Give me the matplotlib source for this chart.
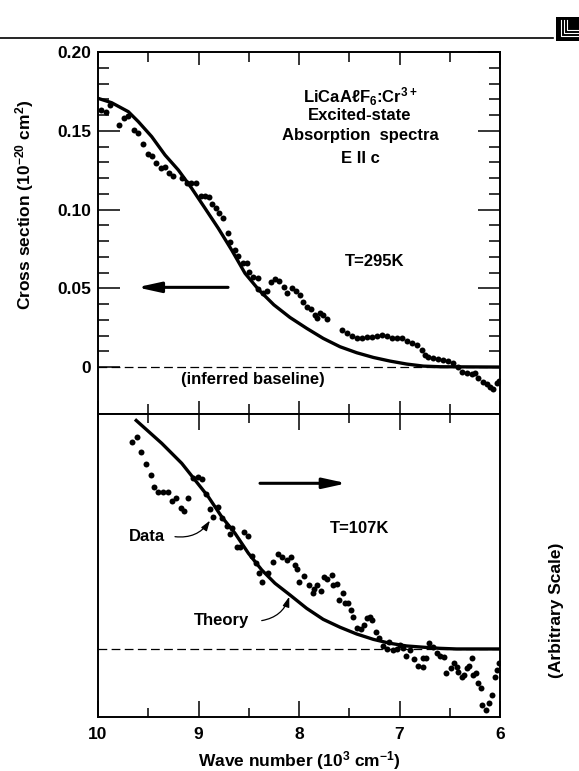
import matplotlib

matplotlib.use("Agg")
import matplotlib.pyplot as plt
from matplotlib.lines import Line2D
from matplotlib.patches import Rectangle
from matplotlib.ticker import FixedLocator

plt.rcParams["font.family"] = ["Liberation Sans", "DejaVu Sans"]
plt.rcParams["font.weight"] = "bold"
plt.rcParams["mathtext.fontset"] = "custom"
plt.rcParams["mathtext.rm"] = "Liberation Sans:bold"
plt.rcParams["mathtext.it"] = "Liberation Sans:bold"
plt.rcParams["mathtext.bf"] = "Liberation Sans:bold"

# ---- T = 295 K, cross section (1e-20 cm^2) vs wave number (1e3 cm^-1)
hot_data_wn = [9.970, 9.924, 9.881, 9.791, 9.738, 9.698, 9.638, 9.605, 9.555, 9.505,
               9.459, 9.423, 9.376, 9.333, 9.294, 9.251, 9.161, 9.118, 9.075, 9.028,
               8.975, 8.935, 8.896, 8.863, 8.829, 8.793, 8.753, 8.710, 8.687, 8.637,
               8.604, 8.554, 8.521, 8.498, 8.454, 8.411, 8.405, 8.361, 8.321, 8.282,
               8.239, 8.196, 8.149, 8.116, 8.073, 8.030, 7.990, 7.963, 7.924, 7.884,
               7.841, 7.824, 7.791, 7.758, 7.725, 7.575, 7.526, 7.476, 7.426, 7.376,
               7.327, 7.277, 7.227, 7.177, 7.128, 7.078, 7.028, 6.978, 6.928, 6.878,
               6.829, 6.779, 6.746, 6.713, 6.663, 6.614, 6.564, 6.514, 6.464, 6.414,
               6.381, 6.331, 6.282, 6.249, 6.216, 6.172, 6.132, 6.100, 6.067, 6.033,
               6.007]
hot_data_cs = [0.1632, 0.1621, 0.1664, 0.1537, 0.1579, 0.1594, 0.1505, 0.1488, 0.1416, 0.1353,
               0.1340, 0.1297, 0.1262, 0.1268, 0.1234, 0.1213, 0.1198, 0.1170, 0.1166, 0.1166,
               0.1086, 0.1086, 0.1082, 0.1035, 0.1008, 0.0976, 0.0944, 0.0853, 0.0796, 0.0743,
               0.0705, 0.0662, 0.0658, 0.0605, 0.0574, 0.0563, 0.0493, 0.0468, 0.0485, 0.0542,
               0.0557, 0.0548, 0.0510, 0.0468, 0.0500, 0.0485, 0.0457, 0.0415, 0.0379, 0.0366,
               0.0330, 0.0309, 0.0341, 0.0330, 0.0303, 0.0235, 0.0214, 0.0197, 0.0182, 0.0182,
               0.0188, 0.0188, 0.0197, 0.0203, 0.0197, 0.0182, 0.0182, 0.0182, 0.0167, 0.0150,
               0.0140, 0.0108, 0.0076, 0.0061, 0.0055, 0.0049, 0.0044, 0.0040, 0.0023, -0.0002,
               -0.0030, -0.0040, -0.0044, -0.0040, -0.0072, -0.0093, -0.0108, -0.0125, -0.0142, -0.0104,
               -0.0087]
hot_theory_wn = [10.0, 9.864, 9.698, 9.599, 9.466, 9.333, 9.201, 9.068, 8.935, 8.803,
                 8.670, 8.537, 8.40, 8.25, 8.090, 7.924, 7.759, 7.592, 7.426, 7.260,
                 7.095, 6.928, 6.762, 6.597, 6.0]
hot_theory_cs = [0.1706, 0.1678, 0.1621, 0.1558, 0.1463, 0.1346, 0.1251, 0.1135, 0.1008, 0.0881,
                 0.0743, 0.0595, 0.0490, 0.0395, 0.0315, 0.0246, 0.0182, 0.0129, 0.0091, 0.0061,
                 0.0038, 0.0019, 0.0006, 0.0002, 0.0]

# ---- T = 107 K, arbitrary scale
cold_data_wn = [9.665, 9.615, 9.572, 9.522, 9.473, 9.439, 9.400, 9.350, 9.306, 9.267,
                9.227, 9.174, 9.141, 9.101, 9.052, 9.002, 8.969, 8.929, 8.886, 8.853,
                8.803, 8.769, 8.720, 8.687, 8.664, 8.620, 8.587, 8.544, 8.504, 8.471,
                8.428, 8.395, 8.371, 8.305, 8.256, 8.212, 8.172, 8.123, 8.080, 8.040,
                8.000, 8.023, 7.950, 7.897, 7.864, 7.851, 7.817, 7.784, 7.751, 7.718,
                7.674, 7.664, 7.624, 7.598, 7.565, 7.542, 7.509, 7.486, 7.459, 7.426,
                7.386, 7.353, 7.320, 7.294, 7.277, 7.234, 7.201, 7.161, 7.128, 7.102,
                7.062, 7.028, 6.995, 6.962, 6.935, 6.896, 6.856, 6.813, 6.769, 6.763,
                6.736, 6.703, 6.663, 6.630, 6.597, 6.557, 6.537, 6.490, 6.458, 6.431,
                6.415, 6.381, 6.358, 6.332, 6.305, 6.282, 6.272, 6.239, 6.215, 6.192,
                6.182, 6.139, 6.106, 6.083, 6.050, 6.033, 6.007]
cold_data_sig = [0.1317, 0.1344, 0.1249, 0.1173, 0.1105, 0.1031, 0.0999, 0.0999, 0.0999, 0.0942,
                 0.0957, 0.0893, 0.0876, 0.0957, 0.1084, 0.1094, 0.1078, 0.0982, 0.0887, 0.0836,
                 0.0904, 0.0830, 0.0781, 0.0730, 0.0766, 0.0650, 0.0650, 0.0745, 0.0718, 0.0591,
                 0.0548, 0.0481, 0.0427, 0.0481, 0.0554, 0.0603, 0.0586, 0.0565, 0.0586, 0.0533,
                 0.0427, 0.0506, 0.0464, 0.0406, 0.0358, 0.0379, 0.0406, 0.0370, 0.0459, 0.0442,
                 0.0470, 0.0406, 0.0413, 0.0311, 0.0358, 0.0290, 0.0290, 0.0248, 0.0205, 0.0131,
                 0.0125, 0.0152, 0.0195, 0.0205, 0.0184, 0.0110, 0.0068, 0.0019, -0.0002, 0.0046,
                 -0.0006, -0.0002, 0.0025, 0.0004, -0.0044, -0.0006, -0.0065, -0.0108, -0.0112, -0.0059,
                 -0.0059, 0.0040, 0.0015, -0.0027, -0.0044, -0.0049, -0.0150, -0.0123, -0.0091, -0.0112,
                 -0.0144, -0.0180, -0.0165, -0.0123, -0.0108, -0.0059, -0.0165, -0.0154, -0.0214, -0.0250,
                 -0.0356, -0.0387, -0.0345, -0.0292, -0.0176, -0.0133, -0.0091]
cold_theory_wn = [9.632, 9.366, 9.167, 9.035, 8.903, 8.770, 8.637, 8.504, 8.371, 8.239,
                  8.090, 7.924, 7.759, 7.592, 7.426, 7.260, 7.095, 6.928, 6.762, 6.597,
                  6.431, 6.0]
cold_theory_sig = [0.1458, 0.1306, 0.1179, 0.1073, 0.0967, 0.0840, 0.0735, 0.0608, 0.0502, 0.0417,
                   0.0343, 0.0258, 0.0188, 0.0138, 0.0095, 0.0061, 0.0036, 0.0019, 0.0011, 0.0004,
                   0.0, 0.0]

W, H = 579, 771
fig = plt.figure(figsize=(W / 100, H / 100), dpi=100)
left, width = 98 / W, 402 / W
ax_hot = fig.add_axes([left, 1 - 414 / H, width, 362 / H])
ax_cold = fig.add_axes([left, 1 - 717 / H, width, 303 / H])

DOT = dict(ls="none", marker="o", ms=4.3, color="black", mew=0)
CURVE = dict(color="black", lw=2.4, solid_capstyle="butt", solid_joinstyle="round")
DASH = dict(color="black", lw=0.9, ls=(0, (7, 3.5)))
BIG_ARROW = dict(arrowstyle="-|>,head_length=1.0,head_width=0.22", lw=2.2, color="black",
                 mutation_scale=14, shrinkA=0, shrinkB=0)
LEADER = dict(arrowstyle="-|>,head_length=0.6,head_width=0.2", lw=0.9, color="black",
              mutation_scale=10, shrinkA=0, shrinkB=0, connectionstyle="arc3,rad=0.3")

for ax in (ax_hot, ax_cold):
    ax.set_xlim(10, 6)
    for s in ax.spines.values():
        s.set_linewidth(1.4)
    ax.xaxis.set_major_locator(FixedLocator([10, 9, 8, 7, 6]))
    ax.xaxis.set_minor_locator(FixedLocator([9.5, 8.5, 7.5, 6.5]))

# upper panel (T=295K)
ax = ax_hot
ax.plot(hot_theory_wn, hot_theory_cs, **CURVE)
ax.plot(hot_data_wn, hot_data_cs, **DOT)
ax.axhline(0, **DASH)
ax.set_ylim(-0.0298, 0.2)
ax.yaxis.set_major_locator(FixedLocator([0, 0.05, 0.10, 0.15, 0.20]))
ax.yaxis.set_minor_locator(FixedLocator([k / 100 for k in range(1, 20) if k % 5]))
ax.set_yticklabels(["0", "0.05", "0.10", "0.15", "0.20"])
ax.tick_params(axis="y", which="major", direction="in", left=True, right=True,
               length=16, width=1.1, labelsize=12.5, pad=5)
ax.tick_params(axis="y", which="minor", direction="in", left=True, right=True,
               length=8, width=1.1)
ax.tick_params(axis="x", which="major", direction="in", top=True, bottom=True,
               length=9.5, width=1.1, labelbottom=False)
ax.tick_params(axis="x", which="minor", direction="in", top=True, bottom=True,
               length=7, width=1.1)
for lab in ax.get_yticklabels():
    lab.set_fontweight("bold")

tx = 7.393
ax.text(tx, 0.1716, r"LiCaAℓF$_6$:Cr$^{3+}$", ha="center", va="center", fontsize=12)
ax.text(tx, 0.1600, "Excited-state", ha="center", va="center", fontsize=12)
ax.text(tx, 0.1467, "Absorption  spectra", ha="center", va="center", fontsize=12)
ax.text(tx, 0.1327, "E II c", ha="center", va="center", fontsize=12)
ax.text(7.244, 0.0673, "T=295K", ha="center", va="center", fontsize=12)
ax.text(8.455, -0.0076, "(inferred baseline)", ha="center", va="center", fontsize=12)
ax.annotate("", xy=(9.612, 0.0506), xytext=(8.706, 0.0506), arrowprops=BIG_ARROW)

# lower panel (T=107K)
ax = ax_cold
ax.plot(cold_theory_wn, cold_theory_sig, **CURVE)
ax.plot(cold_data_wn, cold_data_sig, **DOT)
ax.axhline(0, **DASH)
ax.set_ylim(-0.0432, 0.1492)
ax.set_yticks([])
ax.set_xticklabels(["10", "9", "8", "7", "6"])
ax.tick_params(axis="x", which="major", direction="in", top=True, bottom=True,
               length=11.5, width=1.1, labelsize=12.5, pad=7)
ax.tick_params(axis="x", which="minor", direction="in", top=True, bottom=True,
               length=6.5, width=1.1)
for lab in ax.get_xticklabels():
    lab.set_fontweight("bold")
ax.set_xlabel(r"Wave number (10$^3$ cm$^{-1}$)", fontsize=12.5, fontweight="bold", labelpad=5)

ax.annotate("", xy=(7.525, 0.1052), xytext=(8.388, 0.1052), arrowprops=BIG_ARROW)
ax.text(7.393, 0.0766, "T=107K", ha="center", va="center", fontsize=12)
ax.text(9.509, 0.0713, "Data", ha="center", va="center", fontsize=12)
ax.annotate("", xy=(8.886, 0.0815), xytext=(9.234, 0.0713), arrowprops=LEADER)
ax.text(8.769, 0.0180, "Theory", ha="center", va="center", fontsize=12)
ax.annotate("", xy=(8.097, 0.0332), xytext=(8.371, 0.0180), arrowprops=LEADER)

# axis titles placed in figure coords
fig.text(25 / W, 1 - 205 / H, r"Cross section (10$^{-20}$ cm$^{2}$)", rotation=90,
         ha="center", va="center", fontsize=12.5, fontweight="bold")
fig.text(557 / W, 1 - 610 / H, "(Arbitrary Scale)", rotation=90,
         ha="center", va="center", fontsize=12.5, fontweight="bold")

# page rule and corner logo
fig.add_artist(Line2D([0, 553 / W], [1 - 38 / H] * 2, color="black", lw=1.2))
fig.add_artist(Rectangle((556 / W, 1 - 41 / H), 23 / W, 24 / H, color="black", lw=0))
for k in range(3):
    x0 = (561 + 3 * k) / W
    y0 = 1 - (36 - 3 * k) / H
    fig.add_artist(Line2D([x0, x0, 579 / W], [1 - 20 / H, y0, y0], color="white", lw=0.8))

fig.savefig("out.png", dpi=100)
